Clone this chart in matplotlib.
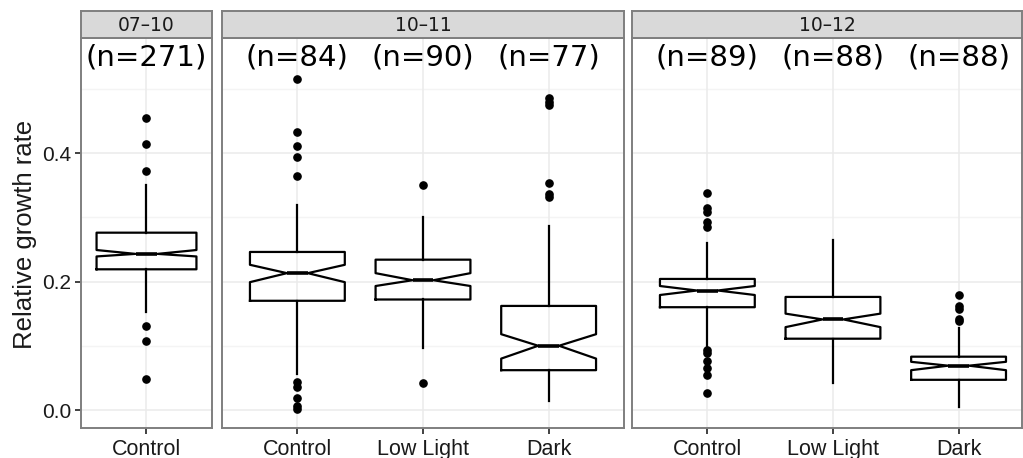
"""
Notched boxplots of relative growth rate, faceted by period (07-10, 10-11, 10-12).
Box statistics are read off the reference figure and drawn with Axes.bxp.
"""
import matplotlib
matplotlib.use("Agg")
import matplotlib.pyplot as plt

# ---- data ----------------------------------------------------------------
groups = ["07\u201310", "10\u201311", "10\u201312"]
categories = [["Control"], ["Control", "Low Light", "Dark"], ["Control", "Low Light", "Dark"]]
n_counts = [[271], [84, 90, 77], [89, 88, 88]]

medians = [[0.243], [0.213, 0.202, 0.100], [0.186, 0.141, 0.069]]
q1 = [[0.219], [0.170, 0.172, 0.062], [0.160, 0.111, 0.047]]
q3 = [[0.276], [0.246, 0.234, 0.162], [0.204, 0.176, 0.083]]
notch_lo = [[0.239], [0.199, 0.193, 0.080], [0.179, 0.129, 0.062]]
notch_hi = [[0.249], [0.226, 0.213, 0.118], [0.193, 0.150, 0.075]]
whisk_lo = [[0.153], [0.056, 0.096, 0.014], [0.099, 0.042, 0.004]]
whisk_hi = [[0.350], [0.319, 0.301, 0.287], [0.260, 0.265, 0.128]]
fliers = [
    [[0.455, 0.414, 0.372, 0.130, 0.107, 0.049]],
    [[0.515, 0.433, 0.411, 0.394, 0.364, 0.044, 0.036, 0.019, 0.007, 0.002],
     [0.350, 0.042],
     [0.486, 0.480, 0.474, 0.353, 0.336, 0.332]],
    [[0.338, 0.314, 0.308, 0.292, 0.285, 0.093, 0.088, 0.077, 0.066, 0.054, 0.027],
     [],
     [0.179, 0.162, 0.157, 0.142, 0.138]],
]

# ---- layout (pixels of a 1023 x 458 canvas) ------------------------------
W, H = 1023, 458
panels_px = [(81, 212), (222, 624), (632, 1022)]
xlims = [(0.4, 1.6), (0.4, 3.6), (0.4, 3.505)]
box_w = [0.915, 0.755, 0.755]
NOTCH_FRAC = 0.22          # box width left at the median
top_px, bot_px, strip_top = 38, 428, 11
YLIM = (-0.028, 0.579)

GRID = "#EBEBEB"
MINOR = "#F4F4F4"
BORDER = "#7F7F7F"
STRIP = "#D9D9D9"
TXT = "#1a1a1a"
SANS = ["Liberation Sans", "DejaVu Sans"]

fig = plt.figure(figsize=(W / 100, H / 100), dpi=100)

for g, (x0, x1) in enumerate(panels_px):
    ax = fig.add_axes([x0 / W, 1 - bot_px / H, (x1 - x0) / W, (bot_px - top_px) / H])
    stats = []
    for i in range(len(categories[g])):
        stats.append(dict(med=medians[g][i], q1=q1[g][i], q3=q3[g][i],
                          whislo=whisk_lo[g][i], whishi=whisk_hi[g][i],
                          cilo=notch_lo[g][i], cihi=notch_hi[g][i],
                          fliers=fliers[g][i], label=categories[g][i]))
    pos = list(range(1, len(stats) + 1))
    line = dict(color="black", lw=1.6)
    art = ax.bxp(stats, positions=pos, widths=box_w[g], shownotches=True, showcaps=False,
                 boxprops=line, whiskerprops=line,
                 medianprops=dict(color="black", lw=2.6, solid_capstyle="butt"),
                 flierprops=dict(marker="o", markersize=5.2, markerfacecolor="black",
                                 markeredgecolor="black", linestyle="none"),
                 zorder=3)
    # narrower notch than matplotlib's default (ggplot-like notchwidth)
    half = box_w[g] * NOTCH_FRAC / 2
    for p, box, med in zip(pos, art["boxes"], art["medians"]):
        xs = list(box.get_xdata())
        xs[3], xs[8] = p + half, p - half
        box.set_xdata(xs)
        med.set_xdata([p - half, p + half])
    ax.set_xlim(*xlims[g])
    ax.set_ylim(*YLIM)

    # grid like theme_bw
    for y in (0.1, 0.3, 0.5):
        ax.axhline(y, color=MINOR, lw=1.0, zorder=0)
    for y in (0.0, 0.2, 0.4):
        ax.axhline(y, color=GRID, lw=1.1, zorder=0)
    for p in pos:
        ax.axvline(p, color=GRID, lw=1.1, zorder=0)

    for sp in ax.spines.values():
        sp.set_color(BORDER)
        sp.set_linewidth(1.4)

    ax.set_xticks(pos)
    ax.set_xticklabels(categories[g], fontfamily=SANS, fontsize=15.5, color=TXT)
    ax.tick_params(axis="x", length=4, width=1.3, color="#333333", pad=4)
    if g == 0:
        ax.set_yticks([0.0, 0.2, 0.4])
        ax.set_yticklabels(["0.0", "0.2", "0.4"], fontfamily=SANS, fontsize=15, color=TXT)
        ax.tick_params(axis="y", length=4, width=1.3, color="#333333", pad=3)
    else:
        ax.set_yticks([])

    for p, n in zip(pos, n_counts[g]):
        ax.text(p, 0.549, f"(n={n})", ha="center", va="center", fontsize=21,
                fontfamily="DejaVu Sans", color="black", zorder=4)

    # facet strip
    sax = fig.add_axes([x0 / W, 1 - top_px / H, (x1 - x0) / W, (top_px - strip_top) / H])
    sax.set_facecolor(STRIP)
    sax.set_xticks([])
    sax.set_yticks([])
    for sp in sax.spines.values():
        sp.set_color(BORDER)
        sp.set_linewidth(1.4)
    sax.text(0.5, 0.45, groups[g], ha="center", va="center", fontsize=13.5,
             fontfamily="DejaVu Sans", color=TXT, transform=sax.transAxes)

fig.text(25 / W, 1 - 234 / H, "Relative growth rate", rotation=90, ha="center",
         va="center", fontsize=18.5, fontfamily=SANS, color=TXT)

fig.savefig("out.png", dpi=100)
